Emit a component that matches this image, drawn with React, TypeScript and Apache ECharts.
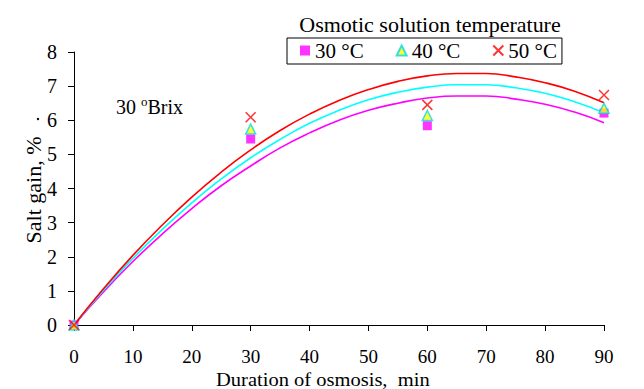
import React, { useEffect, useRef } from "react";
import * as echarts from "echarts";

const FONT = "'Liberation Serif', 'Times New Roman', serif";

const curveTimes = [0, 5, 10, 15, 20, 25, 30, 35, 40, 45, 50, 55, 60, 65, 70, 75, 80, 85, 90];
const curve30 = [0, 0.97, 1.86, 2.67, 3.41, 4.08, 4.66, 5.19, 5.63, 6.0, 6.29, 6.5, 6.65, 6.71, 6.71, 6.62, 6.47, 6.24, 5.93];
const curve40 = [0, 1.02, 1.95, 2.8, 3.58, 4.28, 4.9, 5.44, 5.91, 6.29, 6.6, 6.82, 6.97, 7.04, 7.04, 6.95, 6.79, 6.54, 6.22];
const curve50 = [0, 1.06, 2.04, 2.93, 3.75, 4.48, 5.13, 5.7, 6.18, 6.58, 6.9, 7.14, 7.3, 7.37, 7.37, 7.27, 7.1, 6.85, 6.51];

const pointTimes = [0, 30, 60, 90];
const points30 = [0, 5.45, 5.84, 6.21];
const points40 = [0, 5.74, 6.14, 6.35];
const points50 = [0, 6.09, 6.45, 6.74];

const seriesNames = ["30 °C", "40 °C", "50 °C"];
const xTicks = { min: 0, max: 90, interval: 10 };
const yTicks = { min: 0, max: 8, interval: 1 };

const CROSS = "path://M0,0L10,10M10,0L0,10";

export default function App() {
  const ref = useRef<HTMLDivElement>(null);
  useEffect(() => {
    if (!ref.current) return;
    const chart = echarts.init(ref.current, undefined, { renderer: "svg" });
    const pair = (xs: number[], ys: number[]) => xs.map((x, i) => [x, ys[i]]);
    const lineSeries = (name: string, data: number[], color: string) => ({
      name,
      type: "line",
      data: pair(curveTimes, data),
      smooth: true,
      showSymbol: false,
      symbol: "none",
      lineStyle: { color, width: 1.6 },
      z: 2,
    });
    chart.setOption({
      animation: false,
      backgroundColor: "#fff",
      grid: { left: 74, right: 40, top: 52, bottom: 64 },
      legend: {
        data: seriesNames,
        left: 287,
        top: 38,
        orient: "horizontal",
        padding: [2, 5, 3, 13],
        itemWidth: 10,
        itemHeight: 10,
        itemGap: 32,
        borderColor: "#000",
        borderWidth: 1,
        textStyle: { fontFamily: FONT, fontSize: 21, color: "#000" },
      },
      xAxis: {
        type: "value",
        min: xTicks.min,
        max: xTicks.max,
        interval: xTicks.interval,
        axisLine: { show: true, lineStyle: { color: "#000", width: 1 } },
        axisTick: { show: true, inside: false, length: 6, lineStyle: { color: "#000" } },
        axisLabel: { margin: 22, fontFamily: FONT, fontSize: 19, color: "#000" },
        splitLine: { show: false },
      },
      yAxis: {
        type: "value",
        min: yTicks.min,
        max: yTicks.max,
        interval: yTicks.interval,
        axisLine: { show: true, lineStyle: { color: "#000", width: 1 } },
        axisTick: { show: true, inside: false, length: 6, lineStyle: { color: "#000" } },
        axisLabel: { margin: 17, fontFamily: FONT, fontSize: 20, color: "#000" },
        splitLine: { show: false },
      },
      graphic: [
        {
          type: "text",
          x: 216,
          y: 389,
          scaleX: 1.08,
          style: {
            text: "Duration of osmosis,  min",
            fontFamily: FONT,
            fontSize: 19,
            fill: "#000",
            align: "left",
            verticalAlign: "bottom",
          },
        },
        {
          type: "text",
          x: 33,
          y: 190,
          rotation: Math.PI / 2,
          style: {
            text: "Salt gain, %",
            fontFamily: FONT,
            fontSize: 22,
            fill: "#000",
            align: "center",
            verticalAlign: "middle",
          },
        },
        { type: "circle", shape: { cx: 38, cy: 119, r: 1.2 }, style: { fill: "#000" } },
        {
          type: "text",
          x: 430,
          y: 25,
          scaleX: 1.1,
          style: {
            text: "Osmotic solution temperature",
            fontFamily: FONT,
            fontSize: 20,
            fill: "#000",
            align: "center",
            verticalAlign: "middle",
          },
        },
        {
          type: "text",
          left: 116,
          top: 95,
          style: {
            text: "{a|30 }{s|o}{a|Brix}",
            rich: {
              a: { fontFamily: FONT, fontSize: 20, fill: "#000", color: "#000", verticalAlign: "bottom", lineHeight: 22 },
              s: { fontFamily: FONT, fontSize: 13, fill: "#000", color: "#000", verticalAlign: "top", lineHeight: 22, padding: [0, 0, 9, 0] },
            },
          },
        },
      ],
      series: [
        lineSeries("c30", curve30, "#ff00ff"),
        lineSeries("c40", curve40, "#00ffff"),
        lineSeries("c50", curve50, "#ff0000"),
        {
          name: seriesNames[0],
          type: "scatter",
          data: pair(pointTimes, points30),
          symbol: "rect",
          symbolSize: 9,
          itemStyle: { color: "#ff00ff" },
          z: 3,
        },
        {
          name: seriesNames[1],
          type: "scatter",
          data: pair(pointTimes, points40),
          symbol: "triangle",
          symbolSize: [10, 10],
          itemStyle: { color: "#ffff00", borderColor: "#00d8f0", borderWidth: 1.5 },
          z: 3,
        },
        {
          name: seriesNames[2],
          type: "scatter",
          data: pair(pointTimes, points50),
          symbol: CROSS,
          symbolSize: 10,
          itemStyle: { color: "rgba(0,0,0,0)", borderColor: "#ff0000", borderWidth: 1.5 },
          z: 3,
        },
      ],
    });
    return () => chart.dispose();
  }, []);
  return <div ref={ref} style={{ width: 644, height: 389, position: "absolute", left: 0, top: 0 }} />;
}
